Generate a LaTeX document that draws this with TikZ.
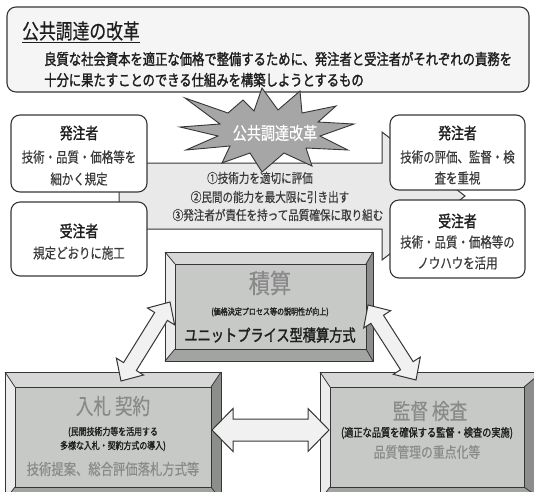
\documentclass[tikz,border=0pt]{standalone}
\usepackage{fontspec}
\setmainfont{Noto Sans CJK JP}[FakeStretch=0.8,UprightFeatures={FakeBold=0.4},BoldFont={Noto Sans CJK JP},BoldFeatures={FakeBold=1.5}]
\usetikzlibrary{calc}
\definecolor{ink}{HTML}{1E1E1E}
\definecolor{edge}{HTML}{363636}
\definecolor{panel}{HTML}{F5F5F5}
\definecolor{flow}{HTML}{E9E9E9}
\definecolor{burst}{HTML}{A6A6A6}
\definecolor{bvtop}{HTML}{D6D7D6}
\definecolor{bvleft}{HTML}{EBECEB}
\definecolor{bvright}{HTML}{8C8E8C}
\definecolor{bvbottom}{HTML}{A2A4A2}
\definecolor{face}{HTML}{C6C9C6}
\definecolor{soft}{HTML}{8A8A8A}
\definecolor{flowtext}{HTML}{3A3A3A}
\definecolor{arrowfill}{HTML}{F1F1F1}
\newcommand\myfs[1]{\fontsize{#1}{#1}\selectfont}
\tikzset{
  panelbox/.style={draw=edge, line width=1.1pt, fill=panel, rounded corners=9pt, inner sep=0pt},
  rolebox/.style={draw=edge, line width=1.1pt, fill=white, rounded corners=9pt, inner sep=0pt},
  flowshape/.style={draw=edge, line width=1pt, fill=flow},
  burstshape/.style={draw=edge, line width=0.9pt, fill=burst},
  bevelline/.style={draw=edge, line width=0.8pt},
  blockarrow/.style={draw=edge, line width=1pt, fill=arrowfill, line join=miter},
  txt/.style={inner sep=0pt, text=ink},
}
\newcommand\bevelbox[1]{%
 \fill[bvtop] (#1-a) -- (#1-b |- #1-a) -- (#1-d |- #1-c) -- (#1-c) -- cycle;
 \fill[bvleft] (#1-a) -- (#1-c) -- (#1-c |- #1-d) -- (#1-a |- #1-b) -- cycle;
 \fill[bvright] (#1-b |- #1-a) -- (#1-b) -- (#1-d) -- (#1-d |- #1-c) -- cycle;
 \fill[bvbottom] (#1-a |- #1-b) -- (#1-c |- #1-d) -- (#1-d) -- (#1-b) -- cycle;
 \fill[face] (#1-c) rectangle (#1-d);
 \draw[bevelline] (#1-a) rectangle (#1-b);
 \draw[bevelline] (#1-c) rectangle (#1-d);
 \draw[bevelline] (#1-a) -- (#1-c) (#1-b |- #1-a) -- (#1-d |- #1-c) (#1-b) -- (#1-d) (#1-a |- #1-b) -- (#1-c |- #1-d);
}
\newcommand\blockarrow[5]{%
 \coordinate (#1h) at ($(#1)!#3!(#2)$);
 \coordinate (#2h) at ($(#2)!#3!(#1)$);
 \draw[blockarrow] (#1) -- ($(#1h)!#4!90:(#2)$) -- ($(#1h)!#5!90:(#2)$) -- ($(#2h)!#5!-90:(#1)$) -- ($(#2h)!#4!-90:(#1)$) -- (#2) -- ($(#2h)!#4!90:(#1)$) -- ($(#2h)!#5!90:(#1)$) -- ($(#1h)!#5!-90:(#2)$) -- ($(#1h)!#4!-90:(#2)$) -- cycle;
}
\begin{document}
\begin{tikzpicture}[x=1pt,y=-1pt]
\useasboundingbox (0,0) rectangle (534,491);
\clip (0,0) rectangle (534,491);
\fill[white] (0,0) rectangle (534,491);

% top panel
\node[panelbox, minimum width=522pt, minimum height=85pt] (panel) at (268,49.5) {};
\node[txt, anchor=west] (title) at (22,32) {\myfs{21}\underline{公共調達の改革}};
\node[txt, anchor=west] (aim1) at (44,59) {\myfs{15.4}\bfseries 良質な社会資本を適正な価格で整備するために、発注者と受注者がそれぞれの責務を};
\node[txt, anchor=west] (aim2) at (44,80) {\myfs{15.4}\bfseries 十分に果たすことのできる仕組みを構築しようとするもの};

% big flow arrow
\draw[flowshape] (119,163) -- (382,163) -- (382,132) -- (465,196) -- (382,260) -- (382,229) -- (119,229) -- cycle;
\node[txt, text=flowtext] (p1) at (260,178) {\myfs{13.2}①技術力を適切に評価};
\node[txt, text=flowtext] (p2) at (270,197) {\myfs{13.2}②民間の能力を最大限に引き出す};
\node[txt, text=flowtext] (p3) at (278,215) {\myfs{13.2}③発注者が責任を持って品質確保に取り組む};

% starburst
\draw[burstshape] (185,98) -- (228,113) -- (243,100) -- (254,111) -- (262,88) -- (278,110) -- (300,91) -- (302,113) -- (336,106) -- (318,122) -- (354,124) -- (320,136) -- (348,150) -- (306,148) -- (312,166) -- (284,153) -- (262,172) -- (250,153) -- (222,163) -- (230,146) -- (186,150) -- (218,136) -- (180,127) -- (220,124) -- cycle;
\node[txt, text=white] (burstlabel) at (275,133) {\myfs{17.6}公共調達改革};

% role boxes
\node[rolebox, minimum width=136pt, minimum height=77pt] (lh) at (79,153.5) {};
\node[rolebox, minimum width=136pt, minimum height=74pt] (lj) at (79,239) {};
\node[rolebox, minimum width=135pt, minimum height=75pt] (rh) at (457.5,152.5) {};
\node[rolebox, minimum width=135pt, minimum height=78pt] (rj) at (457.5,239) {};

\node[txt] (lh1) at (79,133) {\myfs{16}\bfseries 発注者};
\node[txt, text=flowtext] (lh2) at (79,157) {\myfs{14.3}技術・品質・価格等を};
\node[txt, text=flowtext] (lh3) at (79,179) {\myfs{14.3}細かく規定};
\node[txt] (lj1) at (79,231) {\myfs{16}\bfseries 受注者};
\node[txt, text=flowtext] (lj2) at (79,253) {\myfs{14.3}規定どおりに施工};

\node[txt] (rh1) at (457.5,133) {\myfs{16}\bfseries 発注者};
\node[txt, text=flowtext] (rh2) at (457.5,157) {\myfs{14.3}技術の評価、監督・検};
\node[txt, text=flowtext] (rh3) at (457.5,178) {\myfs{14.3}査を重視};
\node[txt] (rj1) at (457.5,221) {\myfs{16}\bfseries 受注者};
\node[txt, text=flowtext] (rj2) at (457.5,242) {\myfs{14.3}技術・品質・価格等の};
\node[txt, text=flowtext] (rj3) at (457.5,263) {\myfs{14.3}ノウハウを活用};

% bevel boxes
\coordinate (js-a) at (165,252); \coordinate (js-b) at (373,361);
\coordinate (js-c) at (175,264); \coordinate (js-d) at (366,349);
\bevelbox{js}
\coordinate (nk-a) at (5,372); \coordinate (nk-b) at (221,500);
\coordinate (nk-c) at (15,387); \coordinate (nk-d) at (211,487);
\bevelbox{nk}
\coordinate (kk-a) at (320,372); \coordinate (kk-b) at (542,500);
\coordinate (kk-c) at (330,387); \coordinate (kk-d) at (524,487);
\bevelbox{kk}

\node[txt, text=soft] (js1) at (270,283) {\myfs{26.4}積算};
\node[txt] (js2) at (270,312) {\myfs{8.8}\bfseries (価格決定プロセス等の説明性が向上)};
\node[txt, text=ink] (js3) at (270,335) {\myfs{16.5}\bfseries ユニットプライス型積算方式};

\node[txt, text=soft] (nk1) at (113,406) {\myfs{22}入札 契約};
\node[txt] (nk2) at (113,432) {\myfs{9.9}\bfseries (民間技術力等を活用する};
\node[txt] (nk3) at (113,446) {\myfs{9.9}\bfseries 多様な入札・契約方式の導入)};
\node[txt, text=soft] (nk4) at (113,469) {\myfs{15.4}技術提案、総合評価落札方式等};

\node[txt, text=soft] (kk1) at (430,411) {\myfs{22}監督 検査};
\node[txt] (kk2) at (427,433) {\myfs{11.5}\bfseries (適正な品質を確保する監督・検査の実施)};
\node[txt, text=soft] (kk3) at (427,452) {\myfs{14.8}品質管理の重点化等};

% double block arrows
\coordinate (la1) at (170,302); \coordinate (la2) at (121,381);
\blockarrow{la1}{la2}{17pt}{16pt}{7.5pt}
\coordinate (ra1) at (368,305); \coordinate (ra2) at (416,380);
\blockarrow{ra1}{ra2}{17pt}{16pt}{7.5pt}
\coordinate (ha1) at (212,430); \coordinate (ha2) at (329,430);
\blockarrow{ha1}{ha2}{21pt}{21.5pt}{11pt}
\end{tikzpicture}
\end{document}
